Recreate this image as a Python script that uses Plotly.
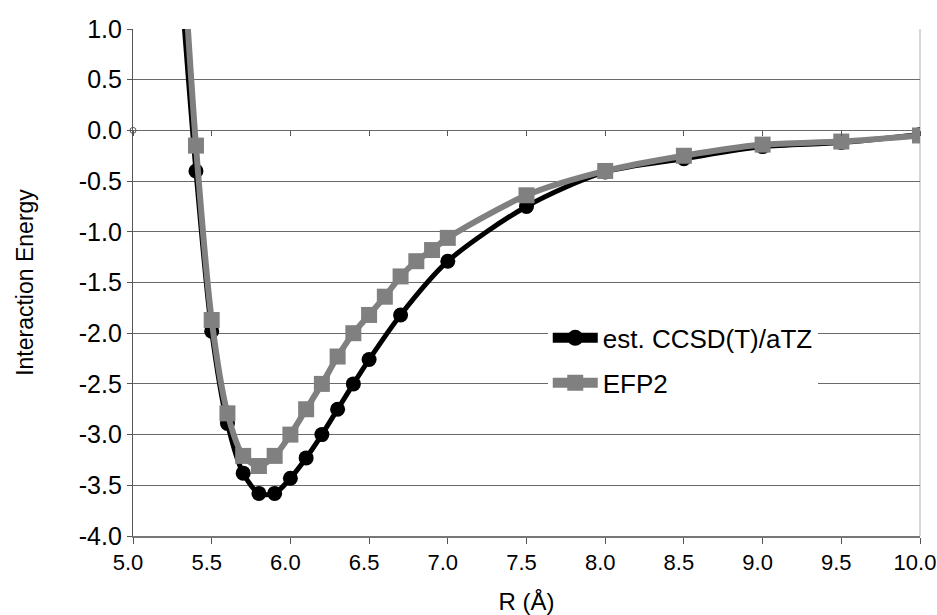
import plotly.graph_objects as go

# Data
r_ccsd = [5.3, 5.4, 5.5, 5.6, 5.7, 5.8, 5.9, 6.0, 6.1, 6.2, 6.3, 6.4, 6.5, 6.7, 7.0, 7.5, 8.0, 8.5, 9.0, 9.5, 10.0]
e_ccsd = [1.55, -0.40, -1.98, -2.89, -3.38, -3.58, -3.58, -3.43, -3.23, -3.00, -2.75, -2.50, -2.26, -1.82, -1.29, -0.75, -0.41, -0.28, -0.16, -0.12, -0.04]

r_efp2 = [5.3, 5.4, 5.5, 5.6, 5.7, 5.8, 5.9, 6.0, 6.1, 6.2, 6.3, 6.4, 6.5, 6.6, 6.7, 6.8, 6.9, 7.0, 7.5, 8.0, 8.5, 9.0, 9.5, 10.0]
e_efp2 = [2.2, -0.15, -1.87, -2.79, -3.21, -3.31, -3.21, -3.00, -2.75, -2.50, -2.23, -2.00, -1.82, -1.64, -1.44, -1.29, -1.18, -1.06, -0.64, -0.40, -0.25, -0.14, -0.11, -0.05]

stray_x = [5.0]
stray_y = [0.0]

x_ticks = [5.0, 5.5, 6.0, 6.5, 7.0, 7.5, 8.0, 8.5, 9.0, 9.5, 10.0]
x_tick_text = ["5.0", "5.5", "6.0", "6.5", "7.0", "7.5", "8.0", "8.5", "9.0", "9.5", "10.0"]
y_ticks = [1.0, 0.5, 0.0, -0.5, -1.0, -1.5, -2.0, -2.5, -3.0, -3.5, -4.0]

FONT = "Liberation Sans, Arial, sans-serif"

fig = go.Figure()
fig.add_trace(go.Scatter(
    x=r_ccsd, y=e_ccsd, name="est. CCSD(T)/aTZ", mode="lines+markers", showlegend=False,
    line=dict(color="#000000", width=5, shape="spline", smoothing=0.8),
    marker=dict(symbol="circle", size=15, color="#000000"),
))
fig.add_trace(go.Scatter(
    x=r_efp2, y=e_efp2, name="EFP2", mode="lines+markers", showlegend=False,
    line=dict(color="#808080", width=6, shape="spline", smoothing=0.8),
    marker=dict(symbol="square", size=16, color="#808080"),
))
# legend entries (thick legend glyphs like the original)
fig.add_trace(go.Scatter(
    x=[None], y=[None], name="est. CCSD(T)/aTZ", mode="lines+markers", legendgroup="a",
    line=dict(color="#000000", width=12),
    marker=dict(symbol="circle", size=20, color="#000000"),
))
fig.add_trace(go.Scatter(
    x=[None], y=[None], name="EFP2", mode="lines+markers", legendgroup="b",
    line=dict(color="#808080", width=12),
    marker=dict(symbol="square", size=20, color="#808080"),
))
fig.add_trace(go.Scatter(
    x=stray_x, y=stray_y, mode="markers", showlegend=False, hoverinfo="skip",
    marker=dict(symbol="circle-open", size=6, color="#555555", line=dict(width=1)),
    cliponaxis=False,
))
# secondary x axis drawn at y = 0 (category axis crossing)
fig.add_trace(go.Scatter(x=[5.0, 10.0], y=[None, None], xaxis="x2", showlegend=False, hoverinfo="skip"))

fig.update_layout(
    width=937, height=615,
    margin=dict(l=133, r=17, t=29, b=79, autoexpand=False),
    paper_bgcolor="white", plot_bgcolor="white",
    font=dict(family=FONT, size=23, color="#000000"),
    showlegend=True,
    legend=dict(
        x=0.527, y=0.437, xanchor="left", yanchor="top",
        bgcolor="white", borderwidth=0, traceorder="grouped",
        font=dict(family=FONT, size=26, color="#000000"),
        itemwidth=45, tracegroupgap=8,
    ),
    xaxis=dict(
        range=[5.0, 10.0], tickvals=x_ticks, ticktext=x_tick_text,
        showgrid=False, zeroline=False,
        showline=True, linecolor="#777777", linewidth=1.5, mirror=False,
        ticks="outside", ticklen=6, tickcolor="#555555", tickwidth=1,
        title=dict(text="R (Å)", font=dict(size=24), standoff=22),
        tickfont=dict(size=22), automargin=False, ticklabeloverflow="allow",
        ticklabelshift=-5,
    ),
    xaxis2=dict(
        range=[5.0, 10.0], overlaying="x", anchor="free", position=0.8,
        tickvals=x_ticks, showticklabels=False, showgrid=False, zeroline=False,
        showline=False, ticks="outside", ticklen=5, tickcolor="#555555", tickwidth=1,
    ),
    yaxis=dict(
        range=[-4.0, 1.0], tickvals=y_ticks, ticktext=[f"{v:.1f}" for v in y_ticks],
        showgrid=True, gridcolor="#6a6a6a", gridwidth=1.3, zeroline=False,
        showline=True, linecolor="#555555", linewidth=1.2,
        ticks="outside", ticklen=5, tickcolor="#555555",
        title=dict(text="Interaction Energy", font=dict(size=23), standoff=38),
        tickfont=dict(size=25), automargin=False,
    ),
    shapes=[dict(type="line", xref="paper", yref="paper", x0=1, x1=1, y0=0, y1=1,
                 line=dict(color="#c8c8c8", width=1.5), layer="below")],
)

fig.write_html(
    "out.html",
    config={"displayModeBar": False},
    post_script="document.body.style.margin='0px';document.body.style.overflow='hidden';",
)
